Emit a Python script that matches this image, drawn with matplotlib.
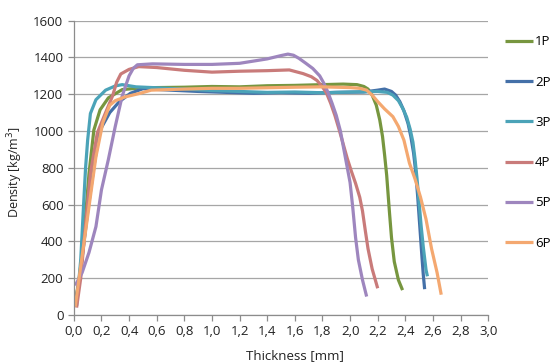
import matplotlib
matplotlib.use('Agg')
import matplotlib.pyplot as plt

plt.rcParams['font.family'] = ['Open Sans', 'DejaVu Sans']

# density profiles (thickness in mm, density in kg/m3)
x_1p = [0.01, 0.04, 0.07, 0.11, 0.145, 0.19, 0.25, 0.35, 0.45, 0.6, 0.8, 1.0, 1.2,
        1.4, 1.6, 1.8, 1.95, 2.05, 2.1, 2.13, 2.16, 2.19, 2.215, 2.235, 2.25, 2.265,
        2.285, 2.3, 2.32, 2.35, 2.38]
y_1p = [70, 200, 400, 770, 1005, 1115, 1180, 1225, 1232, 1236, 1238, 1242, 1240,
        1246, 1248, 1252, 1255, 1252, 1242, 1228, 1195, 1140, 1060, 970, 870, 760,
        560, 420, 290, 190, 135]

x_2p = [0.01, 0.05, 0.1, 0.15, 0.19, 0.26, 0.33, 0.41, 0.5, 0.7, 0.9, 1.1, 1.3,
        1.5, 1.7, 1.9, 2.1, 2.2, 2.25, 2.3, 2.33, 2.36, 2.39, 2.42, 2.44, 2.46,
        2.475, 2.49, 2.505, 2.52, 2.53, 2.54]
y_2p = [50, 250, 560, 830, 1005, 1100, 1160, 1205, 1230, 1222, 1215, 1210, 1205,
        1208, 1205, 1210, 1212, 1222, 1228, 1215, 1195, 1160, 1110, 1040, 970, 880,
        780, 640, 480, 320, 220, 140]

x_3p = [0.02, 0.05, 0.07, 0.085, 0.1, 0.12, 0.16, 0.23, 0.3, 0.35, 0.45, 0.6, 0.8,
        1.0, 1.2, 1.4, 1.6, 1.8, 2.0, 2.2, 2.27, 2.31, 2.35, 2.38, 2.41, 2.435,
        2.455, 2.47, 2.485, 2.5, 2.515, 2.53, 2.55, 2.56]
y_3p = [50, 300, 590, 800, 950, 1095, 1170, 1222, 1245, 1252, 1240, 1235, 1228,
        1220, 1215, 1210, 1212, 1208, 1212, 1215, 1210, 1195, 1165, 1125, 1075, 1010,
        940, 850, 740, 610, 480, 370, 245, 210]

x_4p = [0.02, 0.05, 0.075, 0.12, 0.17, 0.23, 0.28, 0.31, 0.34, 0.4, 0.47, 0.6, 0.8,
        1.0, 1.2, 1.4, 1.56, 1.66, 1.72, 1.76, 1.8, 1.83, 1.86, 1.89, 1.92, 1.95,
        1.98, 2.01, 2.04, 2.07, 2.09, 2.11, 2.13, 2.16, 2.2]
y_4p = [40, 200, 410, 770, 990, 1100, 1190, 1265, 1310, 1335, 1350, 1345, 1330,
        1320, 1325, 1328, 1332, 1312, 1295, 1275, 1240, 1205, 1150, 1085, 1010, 930,
        850, 780, 715, 640, 565, 460, 360, 250, 145]

x_5p = [0.01, 0.06, 0.11, 0.16, 0.2, 0.25, 0.3, 0.35, 0.4, 0.43, 0.46, 0.57, 0.8,
        1.0, 1.2, 1.3, 1.4, 1.5, 1.55, 1.59, 1.63, 1.68, 1.73, 1.78, 1.81, 1.84,
        1.87, 1.9, 1.93, 1.955, 1.98, 2.0, 2.02, 2.04, 2.06, 2.09, 2.12]
y_5p = [160, 230, 340, 480, 680, 845, 1025, 1190, 1300, 1340, 1360, 1365, 1362,
        1362, 1368, 1380, 1392, 1410, 1418, 1412, 1395, 1368, 1340, 1300, 1260, 1210,
        1150, 1085, 1000, 900, 800, 720, 580, 420, 300, 190, 100]

x_6p = [0.01, 0.06, 0.11, 0.16, 0.21, 0.26, 0.3, 0.37, 0.48, 0.56, 0.8, 1.0, 1.2,
        1.4, 1.6, 1.8, 2.0, 2.07, 2.12, 2.16, 2.2, 2.25, 2.31, 2.35, 2.39, 2.43,
        2.47, 2.51, 2.55, 2.59, 2.63, 2.66]
y_6p = [45, 320, 590, 860, 1045, 1140, 1165, 1185, 1205, 1222, 1228, 1232, 1232,
        1235, 1238, 1240, 1236, 1232, 1222, 1195, 1160, 1120, 1078, 1025, 950, 825,
        740, 640, 520, 360, 230, 110]

labels = ['1P', '2P', '3P', '4P', '5P', '6P']
colors = ['#77963F', '#4470A8', '#4BA3B8', '#C97B7A', '#9E86BE', '#F4A870']
series = [(x_1p, y_1p), (x_2p, y_2p), (x_3p, y_3p),
          (x_4p, y_4p), (x_5p, y_5p), (x_6p, y_6p)]

fig = plt.figure(figsize=(5.51, 3.62), dpi=100)
ax = fig.add_axes([0.134, 0.130, 0.752, 0.813])

lines = []
for (xs, ys), lab, col in zip(series, labels, colors):
    ln, = ax.plot(xs, ys, color=col, lw=2.3, label=lab, solid_capstyle='butt')
    lines.append(ln)

ax.set_xlim(0, 3.0)
ax.set_ylim(0, 1600)
ax.set_xticks([i * 0.2 for i in range(16)])
ax.set_xticklabels([('%.1f' % (i * 0.2)).replace('.', ',') for i in range(16)])
ax.set_yticks(range(0, 1601, 200))

ax.grid(axis='y', color='#A6A6A6', lw=0.9)
ax.set_axisbelow(True)
for s in ['top', 'right']:
    ax.spines[s].set_visible(False)
for s in ['left', 'bottom']:
    ax.spines[s].set_color('#8C8C8C')
    ax.spines[s].set_linewidth(0.9)
ax.tick_params(axis='both', colors='#8C8C8C', length=4, width=0.9,
               labelcolor='#222222', labelsize=9.5)

ax.set_xlabel('Thickness [mm]', fontsize=9.5, color='#222222')
ax.set_ylabel('Density [kg/m$^3$]', fontsize=9, color='#222222')
ax.xaxis.set_label_coords(0.534, -0.115)
ax.yaxis.set_label_coords(-0.118, 0.486)

fig.legend(handles=lines, loc='upper left', bbox_to_anchor=(0.905, 0.921),
           frameon=False, fontsize=9.5, handlelength=2.1, handletextpad=0.15,
           labelspacing=2.07, borderpad=0)

fig.savefig('out.png', dpi=100)
